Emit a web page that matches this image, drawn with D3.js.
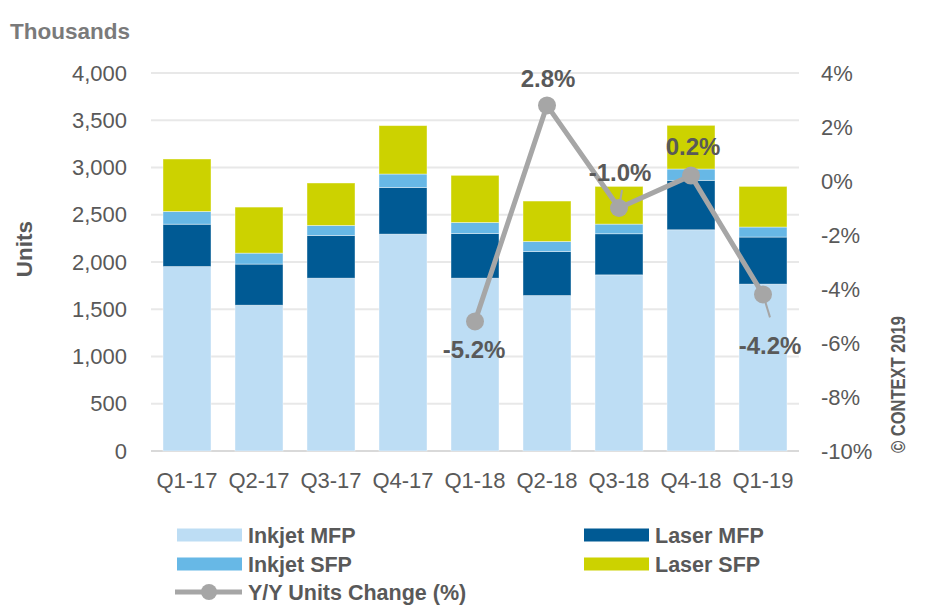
<!DOCTYPE html>
<html>
<head>
<meta charset="utf-8">
<script src="https://cdn.jsdelivr.net/npm/d3@7"></script>
<style>
  html, body { margin: 0; padding: 0; background: #fff; }
  svg { display: block; font-family: "Liberation Sans", Arial, sans-serif; }
</style>
</head>
<body>
<svg id="chart" width="939" height="616"></svg>
<script>
// ---- data ----
const categories = ["Q1-17","Q2-17","Q3-17","Q4-17","Q1-18","Q2-18","Q3-18","Q4-18","Q1-19"];
const inkjetMFP = [1952, 1543, 1829, 2295, 1829, 1645, 1864, 2341, 1766];
const laserMFP  = [ 448,  435,  452,  494,  473,  466,  435,  523,  498];
const inkjetSFP = [ 135,  116,  106,  142,  116,  106,  102,  120,  106];
const laserSFP  = [ 555,  487,  449,  512,  499,  428,  399,  462,  430];
const yoyCats   = ["Q1-18","Q2-18","Q3-18","Q4-18","Q1-19"];
const yoyChange = [-5.2, 2.8, -1.0, 0.2, -4.2];
const leftTicks  = [0, 500, 1000, 1500, 2000, 2500, 3000, 3500, 4000];
const rightTicks = [-10, -8, -6, -4, -2, 0, 2, 4];

// label placement (styling): dx, dy of label center from marker, optional leader end
const labelOffsets = [
  {dx: -1, dy: 28},
  {dx: 1, dy: -27},
  {dx: 1, dy: -36, leader: [3, -18]},
  {dx: 2, dy: -29},
  {dx: 7, dy: 51, leader: [7, 23]}
];

const seriesNames = ["Inkjet MFP", "Laser MFP", "Inkjet SFP", "Laser SFP"];
const seriesData  = [inkjetMFP, laserMFP, inkjetSFP, laserSFP];
const colors = {"Inkjet MFP": "#BDDDF4", "Laser MFP": "#005A94", "Inkjet SFP": "#67B8E6", "Laser SFP": "#CCD200"};
const lineColor = "#A6A6A6";
const textColor = "#595959";

const svg = d3.select("#chart");

const x = d3.scaleBand().domain(categories).range([151, 799]).paddingInner(1/3).paddingOuter(1/6);
const y = d3.scaleLinear().domain([0, 4000]).range([451, 73]);
const y2 = d3.scaleLinear().domain([-10, 4]).range([451, 73]);

// gridlines
svg.append("g").selectAll("line").data(leftTicks).join("line")
  .attr("x1", 151).attr("x2", 799)
  .attr("y1", d => y(d)).attr("y2", d => y(d))
  .attr("stroke", d => d === 0 ? "#d9d9d9" : "#e8e8e8").attr("stroke-width", 2);

// stacked bars
const table = categories.map((c, i) => {
  const o = {cat: c};
  seriesNames.forEach((s, j) => o[s] = seriesData[j][i]);
  return o;
});
const stacked = d3.stack().keys(seriesNames)(table);
svg.append("g").selectAll("g").data(stacked).join("g")
  .attr("fill", d => colors[d.key])
  .selectAll("rect").data(d => d).join("rect")
  .attr("x", d => x(d.data.cat))
  .attr("width", x.bandwidth())
  .attr("y", d => y(d[1]))
  .attr("height", d => y(d[0]) - y(d[1]))
  .attr("stroke", "rgba(255,255,255,0.5)").attr("stroke-width", 0.8);

// left axis
const leftAxis = d3.axisLeft(y).tickValues(leftTicks).tickFormat(d3.format(",")).tickSize(0).tickPadding(0);
const gl = svg.append("g").attr("transform", "translate(127,0)").call(leftAxis);
gl.select(".domain").remove();
gl.selectAll("text").attr("fill", textColor).style("font-size", "22px")
  .style("font-family", "'Liberation Sans', Arial, sans-serif");

// right axis
const rightAxis = d3.axisRight(y2).tickValues(rightTicks).tickFormat(d => d + "%").tickSize(0).tickPadding(0);
const gr = svg.append("g").attr("transform", "translate(821,0)").call(rightAxis);
gr.select(".domain").remove();
gr.selectAll("text").attr("fill", textColor).style("font-size", "22px")
  .style("font-family", "'Liberation Sans', Arial, sans-serif");

// bottom axis
const bottomAxis = d3.axisBottom(x).tickSize(0).tickPadding(0);
const gb = svg.append("g").attr("transform", "translate(0,472)").call(bottomAxis);
gb.select(".domain").remove();
gb.selectAll("text").attr("fill", textColor).style("font-size", "22px")
  .attr("dy", "0.71em")
  .style("font-family", "'Liberation Sans', Arial, sans-serif");

// line
const cx = d => x(d) + x.bandwidth() / 2;
const linePts = yoyCats.map((c, i) => ({cat: c, v: yoyChange[i], off: labelOffsets[i]}));
svg.append("path").datum(linePts)
  .attr("fill", "none").attr("stroke", lineColor).attr("stroke-width", 5)
  .attr("stroke-linejoin", "round")
  .attr("d", d3.line().x(d => cx(d.cat)).y(d => y2(d.v)));

// leader lines
svg.append("g").selectAll("line").data(linePts.filter(d => d.off.leader)).join("line")
  .attr("x1", d => cx(d.cat)).attr("y1", d => y2(d.v))
  .attr("x2", d => cx(d.cat) + d.off.leader[0]).attr("y2", d => y2(d.v) + d.off.leader[1])
  .attr("stroke", lineColor).attr("stroke-width", 2);

svg.append("g").selectAll("circle").data(linePts).join("circle")
  .attr("cx", d => cx(d.cat)).attr("cy", d => y2(d.v)).attr("r", 9)
  .attr("fill", lineColor);

// data labels
const pct = d => d.toFixed(1) + "%";
svg.append("g").selectAll("text").data(linePts).join("text")
  .attr("x", d => cx(d.cat) + d.off.dx)
  .attr("y", d => y2(d.v) + d.off.dy + 8.5)
  .attr("text-anchor", "middle")
  .attr("fill", textColor).style("font-size", "24px").style("font-weight", "bold")
  .text(d => pct(d.v));

// titles
svg.append("text").attr("x", 10).attr("y", 39).attr("fill", "#7a7a7a")
  .style("font-size", "22.5px").style("font-weight", "bold").text("Thousands");

svg.append("text").attr("transform", "translate(32,249) rotate(-90)")
  .attr("text-anchor", "middle").attr("fill", textColor)
  .style("font-size", "22.5px").style("font-weight", "bold").text("Units");

svg.append("text").attr("transform", "translate(905,453) rotate(-90)")
  .attr("fill", textColor)
  .style("font-size", "20px").style("font-weight", "bold")
  .attr("textLength", 137).attr("lengthAdjust", "spacingAndGlyphs")
  .text("\u00A9 CONTEXT 2019");

// legend
const legendItems = [
  {name: "Inkjet MFP", type: "rect", x: 177, y: 535},
  {name: "Inkjet SFP", type: "rect", x: 177, y: 564},
  {name: "Y/Y Units Change (%)", type: "line", x: 177, y: 592},
  {name: "Laser MFP", type: "rect", x: 584, y: 535},
  {name: "Laser SFP", type: "rect", x: 584, y: 564}
];
const lg = svg.append("g").selectAll("g").data(legendItems).join("g")
  .attr("transform", d => `translate(${d.x},${d.y})`);
lg.filter(d => d.type === "rect").append("rect")
  .attr("x", 0).attr("y", -6.5).attr("width", 65).attr("height", 13)
  .attr("fill", d => colors[d.name]);
const ll = lg.filter(d => d.type === "line");
ll.append("line").attr("x1", -2).attr("x2", 65).attr("y1", 0).attr("y2", 0)
  .attr("stroke", lineColor).attr("stroke-width", 5);
ll.append("circle").attr("cx", 32).attr("cy", 0).attr("r", 8).attr("fill", lineColor);
lg.append("text").attr("x", 71).attr("y", 7.5)
  .attr("fill", textColor).style("font-size", "21.5px").style("font-weight", "bold")
  .text(d => d.name);
</script>
</body>
</html>
